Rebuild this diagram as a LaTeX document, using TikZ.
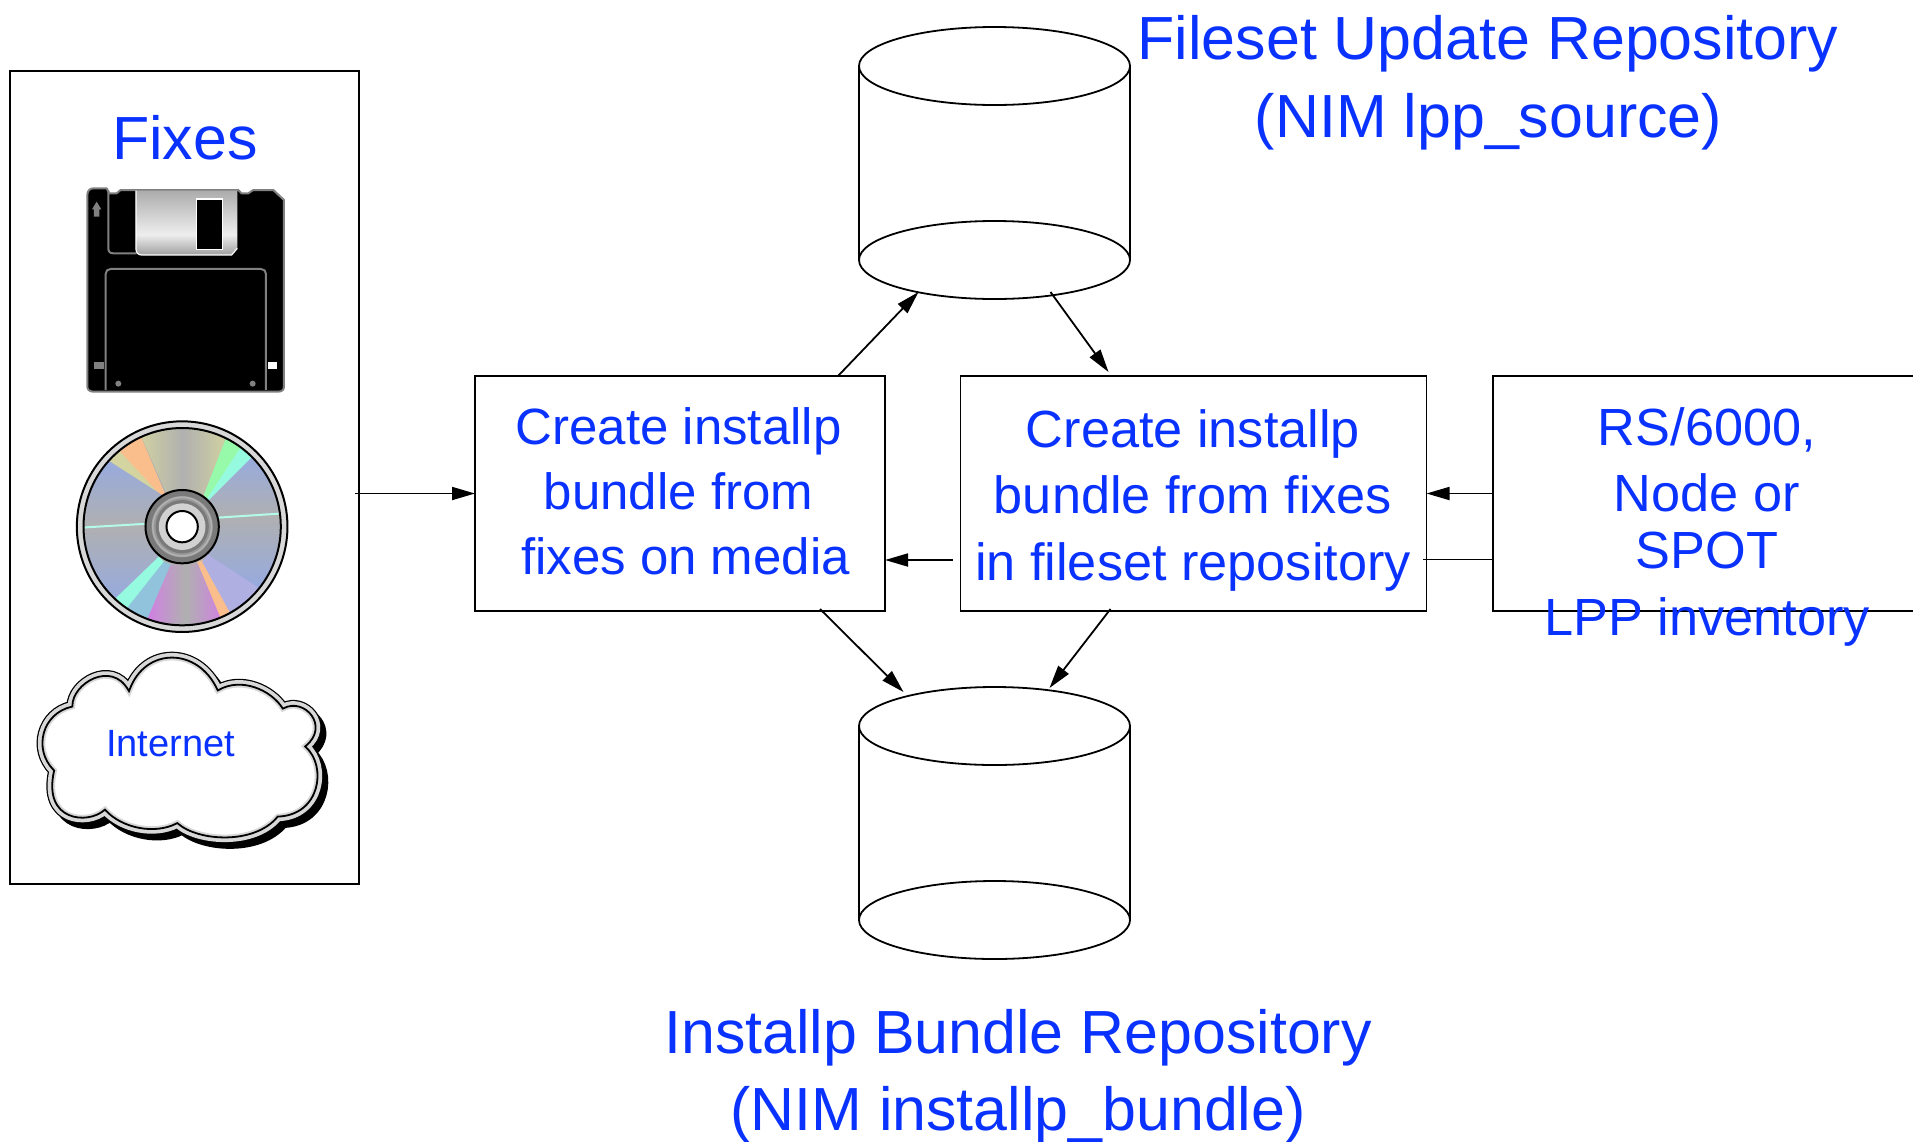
\documentclass[tikz,border=0pt]{standalone}
\usepackage{fontspec}
\setmainfont{Liberation Sans}
\usetikzlibrary{arrows.meta,shapes.geometric}
\definecolor{fixblue}{RGB}{10,50,255}
\definecolor{flopgray}{RGB}{128,128,128}
\definecolor{shuta}{RGB}{160,160,160}
\definecolor{shutb}{RGB}{238,238,238}
\definecolor{shutc}{RGB}{172,172,172}
\definecolor{cdgray}{RGB}{176,176,176}
\definecolor{cdblue}{RGB}{150,170,225}
\definecolor{cdkhaki}{RGB}{212,212,160}
\definecolor{cdorange}{RGB}{250,190,140}
\definecolor{cdgreen}{RGB}{150,250,170}
\definecolor{cdcyan}{RGB}{150,250,225}
\definecolor{cdsky}{RGB}{145,195,220}
\definecolor{cdmag}{RGB}{210,125,230}
\definecolor{cdlav}{RGB}{175,175,225}
\definecolor{cdline}{RGB}{180,250,235}
\definecolor{ringgray}{RGB}{216,216,216}
\pgfdeclareverticalshading{shutter}{100bp}{color(0bp)=(shuta); color(25bp)=(shuta); color(41bp)=(shutb); color(75bp)=(shutc); color(100bp)=(shutc)}
\newcommand{\cloudpath}{(150,220) .. controls (150,150) and (270,80) .. (322,170)
  .. controls (370,40) and (530,40) .. (590,170)
  .. controls (660,130) and (750,170) .. (785,225)
  .. controls (850,190) and (930,280) .. (855,342)
  .. controls (920,400) and (900,550) .. (770,555)
  .. controls (700,640) and (530,630) .. (467,575)
  .. controls (400,610) and (300,590) .. (250,535)
  .. controls (200,580) and (60,570) .. (95,415)
  .. controls (30,350) and (60,240) .. (150,220) -- cycle}
\tikzset{
  ln/.style={line width=1.8pt,draw=black},
  boxnode/.style={ln,rectangle,inner sep=0pt,outer sep=0pt},
  bare/.style={rectangle,inner sep=0pt,outer sep=0pt},
  cylend/.style={ln,ellipse,inner sep=0pt,outer sep=0pt,minimum width=271pt,minimum height=78pt,fill=white},
  txta/.style={text=fixblue,anchor=base,inner sep=0pt,font=\fontsize{51}{51}\selectfont},
  txtb/.style={text=fixblue,anchor=base,inner sep=0pt,font=\fontsize{52.3}{52.3}\selectfont},
  title/.style={text=fixblue,anchor=base,inner sep=0pt,font=\fontsize{60.9}{60.9}\selectfont},
  small/.style={text=fixblue,anchor=base,inner sep=0pt,font=\fontsize{52.3}{52.3}\selectfont},
  conn/.style={ln,-{Triangle[length=23pt,width=13pt]}},
}
\begin{document}
\begin{tikzpicture}[x=1pt,y=-1pt]
\useasboundingbox (0,0) rectangle (1913,1141);

% Fixes panel
\node[boxnode,minimum width=349pt,minimum height=813pt] (fixbox) at (184.5,477.5) {};
\node[title] (fixes) at (185,159) {Fixes};

% Diskette
\begin{scope}[shift={(60,170)},x=0.3333pt,y=-0.3333pt]
  \draw[fill=black,draw=flopgray,line width=2pt,line join=round]
    (82,75) .. controls (82,62) and (90,55) .. (100,55) -- (140,55) -- (148,70)
    -- (170,70) -- (182,60) -- (535,60) -- (545,70) -- (565,70) -- (580,60)
    -- (640,60) -- (672,90) -- (672,650) .. controls (672,660) and (665,665) .. (655,665)
    -- (100,665) .. controls (90,665) and (82,660) .. (82,650) -- cycle;
  \draw[flopgray,line width=2pt] (145,62) -- (145,235) .. controls (145,245) and (150,250) .. (160,250) -- (230,250);
  \path[shade,shading=shutter] (228,62) -- (532,62) -- (532,235) -- (515,255) -- (245,255) .. controls (235,255) and (228,248) .. (228,238) -- cycle;
  \draw[white,line width=1.2pt] (228,62) -- (228,238) .. controls (228,248) and (235,255) .. (245,255) -- (515,255) -- (532,235);
  \draw[white,fill=black,line width=1.5pt] (410,87) rectangle (488,238);
  \draw[flopgray,line width=2pt] (137,660) -- (137,312) .. controls (137,303) and (143,297) .. (152,297) -- (603,297) .. controls (612,297) and (618,303) .. (618,312) -- (618,660);
  \fill[flopgray] (175,641) circle (9);
  \fill[flopgray] (578,641) circle (9);
  \fill[flopgray] (103,575) rectangle (132,598);
  \fill[white] (625,575) rectangle (651,598);
  \fill[flopgray] (110,95) -- (124,118) -- (118,118) -- (118,140) -- (102,140) -- (102,118) -- (96,118) -- cycle;
\end{scope}

% Compact disc
\begin{scope}[shift={(60.5,400)},x=0.3333pt,y=-0.3333pt]
  \draw[fill=ringgray,draw=black,line width=2pt] (365,380) circle (316);
  \begin{scope}
    \clip (365,380) circle (296);
    \fill[cdgray] (365,380) circle (296);
    \shade[left color=cdkhaki,right color=cdkhaki,middle color=cdgray] (225,70) -- (510,70) -- (435,295) -- (315,275) -- cycle;
    \fill[cdkhaki] (120,170) -- (170,130) -- (305,290) -- cycle;
    \fill[cdorange] (170,145) -- (235,95) -- (315,285) -- (300,285) -- cycle;
    \shade[top color=cdblue,bottom color=cdgray] (125,170) -- (40,280) -- (40,382) -- (365,365) -- (305,285) -- cycle;
    \shade[top color=cdgray,bottom color=cdblue] (40,385) -- (60,520) -- (165,610) -- (300,470) -- (365,375) -- cycle;
    \fill[cdcyan] (160,600) -- (200,640) -- (315,490) -- (295,470) -- cycle;
    \fill[cdsky] (195,630) -- (255,675) -- (335,495) -- (310,485) -- cycle;
    \shade[left color=cdmag,right color=cdmag,middle color=cdgray] (255,670) -- (495,670) -- (415,490) -- (330,495) -- cycle;
    \fill[cdorange] (485,665) -- (525,650) -- (430,480) -- (410,485) -- cycle;
    \fill[cdlav] (515,650) -- (610,570) -- (445,460) -- (425,485) -- cycle;
    \shade[top color=cdgray,bottom color=cdblue] (700,345) -- (700,500) -- (605,570) -- (445,465) -- (365,350) -- cycle;
    \shade[top color=cdblue,bottom color=cdgray] (575,160) -- (700,230) -- (700,340) -- (365,352) -- (445,295) -- cycle;
    \fill[cdcyan] (535,130) -- (580,165) -- (445,300) -- (435,290) -- cycle;
    \fill[cdgreen] (500,105) -- (545,135) -- (440,295) -- (430,285) -- cycle;
    \draw[cdline,line width=2pt] (60,383) -- (365,365);
    \draw[cdline,line width=2pt] (365,360) -- (670,340);
  \end{scope}
  \draw[black,line width=2pt] (365,380) circle (296);
  \draw[fill=black!52,draw=black,line width=2pt] (365,380) circle (110);
  \draw[fill=black!40,draw=none] (365,380) circle (92);
  \draw[black!30,line width=1.5pt] (365,380) circle (88);
  \fill[black!52] (365,380) circle (80);
  \fill[black!18] (365,380) circle (70);
  \draw[fill=white,draw=black,line width=2pt] (365,380) circle (47);
\end{scope}

% Internet cloud
\begin{scope}[shift={(21.5,632.5)},x=0.3333pt,y=-0.3333pt]
  \begin{scope}[shift={(16,18)}]
    \draw[line width=9pt,black,fill=black] \cloudpath;
  \end{scope}
  \draw[line width=10pt,black,miter limit=4] \cloudpath;
  \draw[line width=7.5pt,ringgray,fill=white,miter limit=4] \cloudpath;
  \begin{scope}
    \clip \cloudpath;
    \draw[line width=3.6pt,black] \cloudpath;
  \end{scope}
\end{scope}
\node[text=fixblue,anchor=base,inner sep=0pt,font=\fontsize{38}{38}\selectfont] (internet) at (170.5,756) {Internet};

% Process boxes
\node[boxnode,minimum width=410pt,minimum height=235pt] (box1) at (680,493.5) {};
\node[boxnode,minimum width=466pt,minimum height=235pt] (box2) at (1193.5,493.5) {};
\node[bare,minimum width=420pt,minimum height=235pt] (box3) at (1703,493.5) {};
\draw[ln] (box3.north east) -- (box3.north west) -- (box3.south west) -- (box3.south east);

\node[txta] (b1a) at (678.5,444) {Create installp};
\node[txta] (b1b) at (678.5,509.5) {bundle from};
\node[txta] (b1c) at (685.5,574.5) {fixes on media};
\node[txtb] (b2a) at (1193,447.5) {Create installp};
\node[txtb] (b2b) at (1193,513.5) {bundle from fixes};
\node[txtb] (b2c) at (1193,580.5) {in fileset repository};
\node[small] (b3a) at (1707,445) {RS/6000,};
\node[small] (b3b) at (1707,511.5) {Node or};
\node[small] (b3c) at (1707,568) {SPOT};
\node[small] (b3d) at (1707,635) {LPP inventory};

% Repositories
\node[cylend] (cyl1bot) at (994.5,260) {};
\draw[ln] (859,66) -- (859,260);
\draw[ln] (1130,66) -- (1130,260);
\node[cylend] (cyl1top) at (994.5,66) {};
\node[cylend] (cyl2bot) at (994.5,920) {};
\draw[ln] (859,726) -- (859,920);
\draw[ln] (1130,726) -- (1130,920);
\node[cylend] (cyl2top) at (994.5,726) {};

\node[title] (t1a) at (1488,59) {Fileset Update Repository};
\node[title] (t1b) at (1488.5,137) {(NIM lpp\_source)};
\node[title] (t2a) at (1018,1053) {Installp Bundle Repository};
\node[title] (t2b) at (1018,1130) {(NIM installp\_bundle)};

% Connectors
\draw[conn] ([xshift=-4pt,yshift=-16pt]fixbox.east) -- ([yshift=0pt]box1.west);
\draw[conn] ([xshift=158pt]box1.north) -- ([xshift=-76pt,yshift=-32pt]cyl1bot.center);
\draw[conn] ([xshift=56pt,yshift=-32pt]cyl1bot.center) -- ([xshift=-85pt,yshift=4pt]box2.north);
\draw[conn] ([xshift=-8pt,yshift=-66.5pt]box2.west) -- ([yshift=-66.5pt]box1.east);
\draw[conn] ([xshift=140pt,yshift=2pt]box1.south) -- ([xshift=-91pt,yshift=34pt]cyl2top.center);
\draw[conn] ([xshift=-83pt,yshift=2pt]box2.south) -- ([xshift=55pt,yshift=38pt]cyl2top.center);
\draw[conn] (box3.west) -- (box2.east);
\draw[ln] ([yshift=-66pt]box3.west) -- ([xshift=-4pt,yshift=-66pt]box2.east);
\end{tikzpicture}
\end{document}
